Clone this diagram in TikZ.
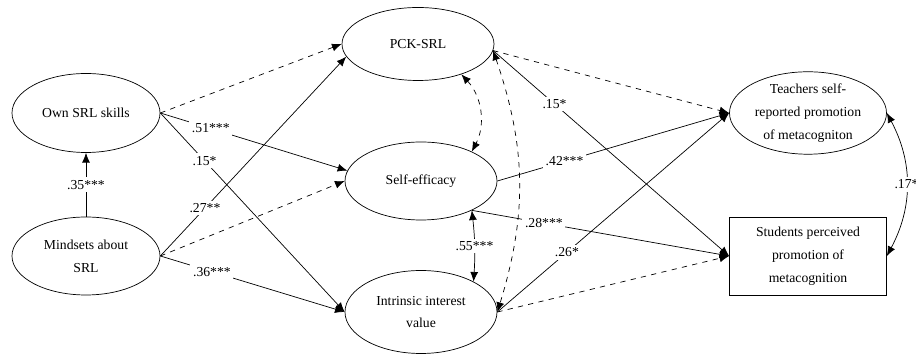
\documentclass[tikz,border=0pt]{standalone}
\usepackage{fontspec}
\setmainfont{Liberation Serif}
\usetikzlibrary{shapes.geometric,arrows.meta}

\begin{document}
\begin{tikzpicture}[>={Latex[length=5.5pt,width=4.5pt]},
        var/.style={draw,ellipse,align=center,inner sep=0pt,
            minimum width=3cm,minimum height=1.56cm,font=\fontsize{7.8}{13}\selectfont},
        obs/.style={draw,rectangle,align=center,inner sep=0pt,
            minimum width=3.14cm,minimum height=1.56cm,font=\fontsize{7.8}{13}\selectfont},
        coef/.style={fill=white,inner sep=1.5pt,font=\fontsize{7.8}{9}\selectfont}]
        \useasboundingbox (0,0) rectangle (18.32,7.22);

        % предикторы
        \node[var,minimum width=2.96cm,minimum height=1.58cm] (own) at (1.72,4.96) {Own SRL skills};
        \node[var,minimum width=2.96cm] (mind) at (1.72,2.10) {Mindsets about\\SRL};

        % медиаторы
        \node[var,minimum width=3.04cm,minimum height=1.46cm] (pck) at (8.36,6.34) {PCK-SRL};
        \node[var,minimum width=3.04cm] (self) at (8.42,3.60) {Self-efficacy};
        \node[var,minimum width=3.04cm,minimum height=1.66cm] (intr) at (8.42,0.98) {Intrinsic interest\\value};

        % результаты
        \node[var,minimum width=3.14cm,minimum height=1.58cm] (teach) at (16.16,4.96) {Teachers self-\\reported promotion\\of metacogniton};
        \node[obs] (stud) at (16.16,2.10) {Students perceived\\promotion of\\metacognition};

        % слева
        \draw[->] (mind) -- (own) node[coef,midway] {.35***};
        \draw[->,dashed] (own.east) -- (pck.west);
        \draw[->] (own.east) -- (self.172) node[coef,pos=0.27] {.51***};
        \draw[->] (own.east) -- (intr.west) node[coef,pos=0.24] {.15*};
        \draw[->] (mind.east) -- (pck.190) node[coef,pos=0.24] {.27**};
        \draw[->,dashed] (mind.east) -- (self.west);
        \draw[->] (mind.east) -- (intr.west) node[coef,pos=0.28] {.36***};

        % ковариации
        \draw[<->,dashed] (pck.325) to[bend left=35] (self.30);
        \draw[<->,dashed] (pck.355) to[bend left=18] (intr.east);
        \draw[<->] (self.330) to[bend left=5] node[coef,midway] {.55***} (intr.30);

        % справа
        \draw[->,dashed] (pck.355) -- (teach.west);
        \draw[->] (self.east) -- (teach.west) node[coef,pos=0.29] {.42***};
        \draw[->] (intr.east) -- (teach.west) node[coef,pos=0.3] {.26*};
        \draw[->] (pck.355) -- (stud.west) node[coef,pos=0.26] {.15*};
        \draw[->] (self.330) -- (stud.west) node[coef,pos=0.28] {.28***};
        \draw[->,dashed] (intr.east) -- (stud.west);

        \draw[<->] (teach.east) to[bend left=28] node[coef,midway] {.17*} (stud.east);
    \end{tikzpicture}
\end{document}
